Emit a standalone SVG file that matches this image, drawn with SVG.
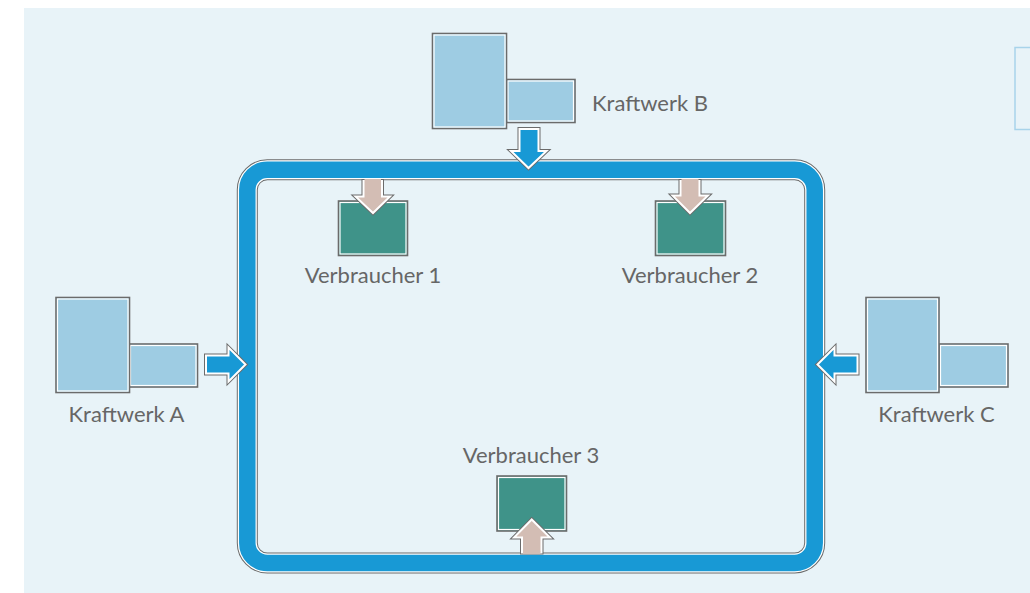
<svg xmlns="http://www.w3.org/2000/svg" width="1030" height="593" viewBox="0 0 1030 593">
<style>
.bg{fill:#e8f3f8}
.plant{fill:#9ecce3;stroke:#6b6b6b;stroke-width:1.6}
.inner{fill:none;stroke:#ffffff;stroke-width:1.2}
.cons{fill:#3f9389;stroke:#6b6b6b;stroke-width:1.6}
.aout{stroke:#6b6b6b;stroke-width:4;stroke-linejoin:miter}
.ain{stroke:#ffffff;stroke-width:2;stroke-linejoin:miter}
.blue{fill:#1899d5}
.tan{fill:#d3bdb4}
.lbl{font-family:Lato,"Open Sans",sans-serif;font-size:22px;fill:#666666}
</style>
<rect class="bg" x="24" y="8" width="1006" height="585"/>
<rect x="1015" y="47.5" width="20" height="82" fill="none" stroke="#a8d3ea" stroke-width="1.5"/>
<g id="netz">
<path d="M267.3,169.8 H794.7 A20,20 0 0 1 814.7,189.8 V543 A20,20 0 0 1 794.7,563 H267.3 A20,20 0 0 1 247.3,543 V189.8 A20,20 0 0 1 267.3,169.8 Z" fill="none" stroke="#6b6b6b" stroke-width="21"/>
<path d="M267.3,169.8 H794.7 A20,20 0 0 1 814.7,189.8 V543 A20,20 0 0 1 794.7,563 H267.3 A20,20 0 0 1 247.3,543 V189.8 A20,20 0 0 1 267.3,169.8 Z" fill="none" stroke="#ffffff" stroke-width="19"/>
<path d="M267.3,169.8 H794.7 A20,20 0 0 1 814.7,189.8 V543 A20,20 0 0 1 794.7,563 H267.3 A20,20 0 0 1 247.3,543 V189.8 A20,20 0 0 1 267.3,169.8 Z" fill="none" stroke="#1899d5" stroke-width="16.5"/>
</g>
<g id="kraftwerk-b">
<rect class="plant" x="506.5" y="79.5" width="68.5" height="43"/>
<rect class="inner" x="508" y="81" width="65.5" height="40"/>
<rect class="plant" x="432.5" y="33.5" width="74" height="95"/>
<rect class="inner" x="434" y="35" width="71" height="92"/>
<text class="lbl" x="592" y="111">Kraftwerk B</text>
</g>
<g id="kraftwerk-a">
<rect class="plant" x="129" y="344" width="68.5" height="43"/>
<rect class="inner" x="130.5" y="345.5" width="65.5" height="40"/>
<rect class="plant" x="56" y="297.5" width="73.5" height="95"/>
<rect class="inner" x="57.5" y="299" width="70.5" height="92"/>
<text class="lbl" x="126.5" y="422" text-anchor="middle">Kraftwerk A</text>
</g>
<g id="kraftwerk-c">
<rect class="plant" x="939" y="344" width="69" height="43"/>
<rect class="inner" x="940.5" y="345.5" width="66" height="40"/>
<rect class="plant" x="866" y="297.5" width="73" height="95"/>
<rect class="inner" x="867.5" y="299" width="70" height="92"/>
<text class="lbl" x="936.5" y="422" text-anchor="middle">Kraftwerk C</text>
</g>
<g id="verbraucher-1">
<rect class="cons" x="338.5" y="201" width="69" height="54.5"/>
<rect class="inner" x="340" y="202.5" width="66" height="51.5"/>
<text class="lbl" x="373" y="283" text-anchor="middle">Verbraucher 1</text>
</g>
<g id="verbraucher-2">
<rect class="cons" x="655.5" y="201" width="70" height="54.5"/>
<rect class="inner" x="657" y="202.5" width="67" height="51.5"/>
<text class="lbl" x="690" y="283" text-anchor="middle">Verbraucher 2</text>
</g>
<g id="verbraucher-3">
<rect class="cons" x="497" y="476" width="69.5" height="55"/>
<rect class="inner" x="498.5" y="477.5" width="66.5" height="52"/>
<text class="lbl" x="531" y="463" text-anchor="middle">Verbraucher 3</text>
</g>
<g id="connectors">
<g class="blue">
<polygon class="aout" points="519.5,129 538.5,129 538.5,151 546.5,151 528.5,168 511,151 519.5,151"/>
<polygon class="ain" points="519.5,129 538.5,129 538.5,151 546.5,151 528.5,168 511,151 519.5,151"/>
<polygon class="aout" points="206,355.5 228.5,355.5 228.5,347.5 245.5,364.5 228.5,381.5 228.5,373.5 206,373.5"/>
<polygon class="ain" points="206,355.5 228.5,355.5 228.5,347.5 245.5,364.5 228.5,381.5 228.5,373.5 206,373.5"/>
<polygon class="aout" points="857.5,355.5 834.5,355.5 834.5,347.5 817.5,364.5 834.5,381.5 834.5,373.5 857.5,373.5"/>
<polygon class="ain" points="857.5,355.5 834.5,355.5 834.5,347.5 817.5,364.5 834.5,381.5 834.5,373.5 857.5,373.5"/>
</g>
<g class="tan">
<polygon class="aout" points="363.5,181 382,181 382,196.5 390,196.5 373,213 355.5,196.5 363.5,196.5"/>
<polygon class="ain" points="363.5,181 382,181 382,196.5 390,196.5 373,213 355.5,196.5 363.5,196.5"/>
<polygon class="aout" points="680.5,181 699.5,181 699.5,195.5 708,195.5 690,213 672.5,195.5 680.5,195.5"/>
<polygon class="ain" points="680.5,181 699.5,181 699.5,195.5 708,195.5 690,213 672.5,195.5 680.5,195.5"/>
<polygon class="aout" points="522,552.5 541.5,552.5 541.5,537.5 550,537.5 531.7,519.5 514,537.5 522,537.5"/>
<polygon class="ain" points="522,552.5 541.5,552.5 541.5,537.5 550,537.5 531.7,519.5 514,537.5 522,537.5"/>
</g>
<rect x="364.5" y="179" width="16.5" height="3" fill="#d3bdb4"/>
<rect x="681.5" y="179" width="17" height="3" fill="#d3bdb4"/>
<rect x="523" y="551" width="17.5" height="3" fill="#d3bdb4"/>
</g>
</svg>
